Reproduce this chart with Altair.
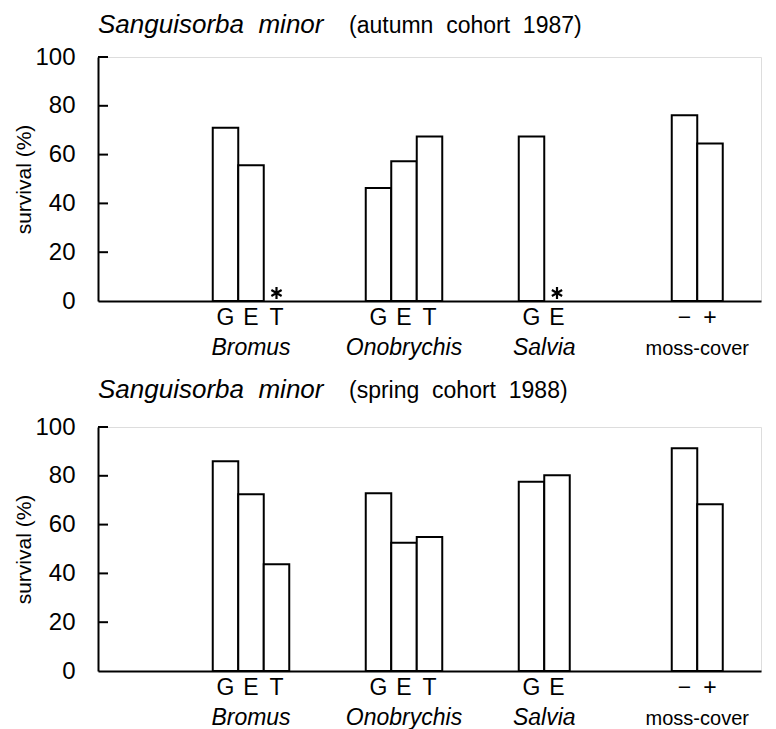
import altair as alt
import pandas as pd

# ---------------- data ----------------
groups = ["Bromus", "Onobrychis", "Salvia", "moss-cover"]
treatments = [["G", "E", "T"], ["G", "E", "T"], ["G", "E"], ["−", "+"]]
gaps_before = [4, 3, 3, 4]   # empty slots before each group
gaps_after = 1
italic_group = [True, True, True, False]

autumn_values = [71, 55.6, 0, 46.3, 57.3, 67.4, 67.4, 0, 76.1, 64.6]
autumn_star = [False, False, True, False, False, False, False, True, False, False]
spring_values = [86, 72.4, 43.7, 72.8, 52.6, 54.9, 77.6, 80.2, 91.3, 68.3]
spring_star = [False] * 10

y_ticks = [0, 20, 40, 60, 80, 100]
species = "Sanguisorba\u00a0\u00a0minor"
cohorts = ["(autumn\u00a0\u00a0cohort\u00a0\u00a01987)", "(spring\u00a0\u00a0cohort\u00a0\u00a01988)"]

# ---------------- layout helpers ----------------
FONT = "Liberation Sans"
STEP = 25.5
domain = []
keys = []
k = 0
for gi, (g, ts) in enumerate(zip(groups, treatments)):
    for s in range(gaps_before[gi]):
        domain.append(f"gap{k}|")
        k += 1
    for t in ts:
        domain.append(f"{g}|{t}")
        keys.append(f"{g}|{t}")
for s in range(gaps_after):
    domain.append(f"gap{k}|")
    k += 1

n_steps = len(domain) + 1  # paddingOuter 0.5 on both sides
W = STEP * n_steps
H = 244

star_path = "M0,-1L0,1M-0.866,-0.5L0.866,0.5M-0.866,0.5L0.866,-0.5"

xscale = alt.Scale(domain=domain, paddingInner=0, paddingOuter=0.5)
yscale = alt.Scale(domain=[0, 100])


def panel(values, stars, cohort, title_y):
    df = pd.DataFrame({"key": keys, "survival": values, "star": stars})
    bars_df = df[~df["star"]]
    star_df = df[df["star"]]

    x = alt.X("key:N", scale=xscale, sort=domain,
              axis=alt.Axis(title=None, labelExpr="split(datum.value, '|')[1]",
                            labelAngle=0, ticks=False, domainColor="black",
                            domainWidth=2, labelFont=FONT, labelFontSize=23,
                            labelColor="black", labelPadding=5, labelBaseline="top"))
    y = alt.Y("survival:Q", scale=yscale,
              axis=alt.Axis(title="survival (%)", values=y_ticks, ticks=False,
                            grid=False, domainColor="black", domainWidth=2,
                            labelFont=FONT, labelFontSize=24, labelColor="black",
                            labelPadding=23, titleFont=FONT, titleFontSize=21,
                            titleFontWeight="normal", titleColor="black",
                            titlePadding=0))

    bars = alt.Chart(bars_df).mark_bar(fill="white", stroke="black",
                                       strokeWidth=2).encode(x=x, y=y)

    ticks_df = pd.DataFrame({"t": y_ticks[1:]})
    ticks = alt.Chart(ticks_df).mark_rule(color="black", strokeWidth=2).encode(
        y=alt.Y("t:Q", scale=yscale), x=alt.value(0), x2=alt.value(10))

    layers = [bars, ticks]
    if len(star_df):
        stars_layer = alt.Chart(star_df).mark_point(
            shape=star_path, filled=False, stroke="black", strokeWidth=2.2,
            size=140, yOffset=-8, opacity=1).encode(
            x=alt.X("key:N", scale=xscale, sort=domain),
            y=alt.Y("survival:Q", scale=yscale))
        layers.append(stars_layer)

    # group labels
    gdf = pd.DataFrame({
        "group": groups,
        "anchor": [f"{g}|{ts[len(ts)//2]}" if len(ts) % 2 else f"{g}|{ts[0]}"
                   for g, ts in zip(groups, treatments)],
        "odd": [len(ts) % 2 == 1 for ts in treatments],
        "italic": italic_group,
    })
    for odd in (True, False):
        for it in (True, False):
            sub = gdf[(gdf["odd"] == odd) & (gdf["italic"] == it)]
            if not len(sub):
                continue
            layers.append(alt.Chart(sub).mark_text(
                font=FONT, fontSize=23 if it else 20,
                fontStyle="italic" if it else "normal", color="black",
                baseline="alphabetic", align="center",
                dx=0 if odd else STEP / 2).encode(
                x=alt.X("anchor:N", scale=xscale, sort=domain),
                y=alt.value(H + 54),
                text="group:N"))

    # panel heading: italic species name + cohort
    layers.append(alt.Chart(pd.DataFrame({"s": [species]})).mark_text(
        font=FONT, fontSize=26, fontStyle="italic", color="black", align="left",
        baseline="alphabetic").encode(
        x=alt.value(0), y=alt.value(title_y), text="s:N"))
    layers.append(alt.Chart(pd.DataFrame({"s": [cohort]})).mark_text(
        font=FONT, fontSize=23, color="black", align="left",
        baseline="alphabetic").encode(
        x=alt.value(251), y=alt.value(title_y), text="s:N"))

    return alt.layer(*layers).properties(width=W, height=H)


top = panel(autumn_values, autumn_star, cohorts[0], -24)
bottom = panel(spring_values, spring_star, cohorts[1], -29)

chart = alt.vconcat(top, bottom, spacing=15).configure_view(
    stroke=None).configure(background="white",
                           padding={"left": 5, "top": 3, "right": 5, "bottom": 2})

chart.save("out.html", embed_options={"renderer": "svg", "actions": False})
